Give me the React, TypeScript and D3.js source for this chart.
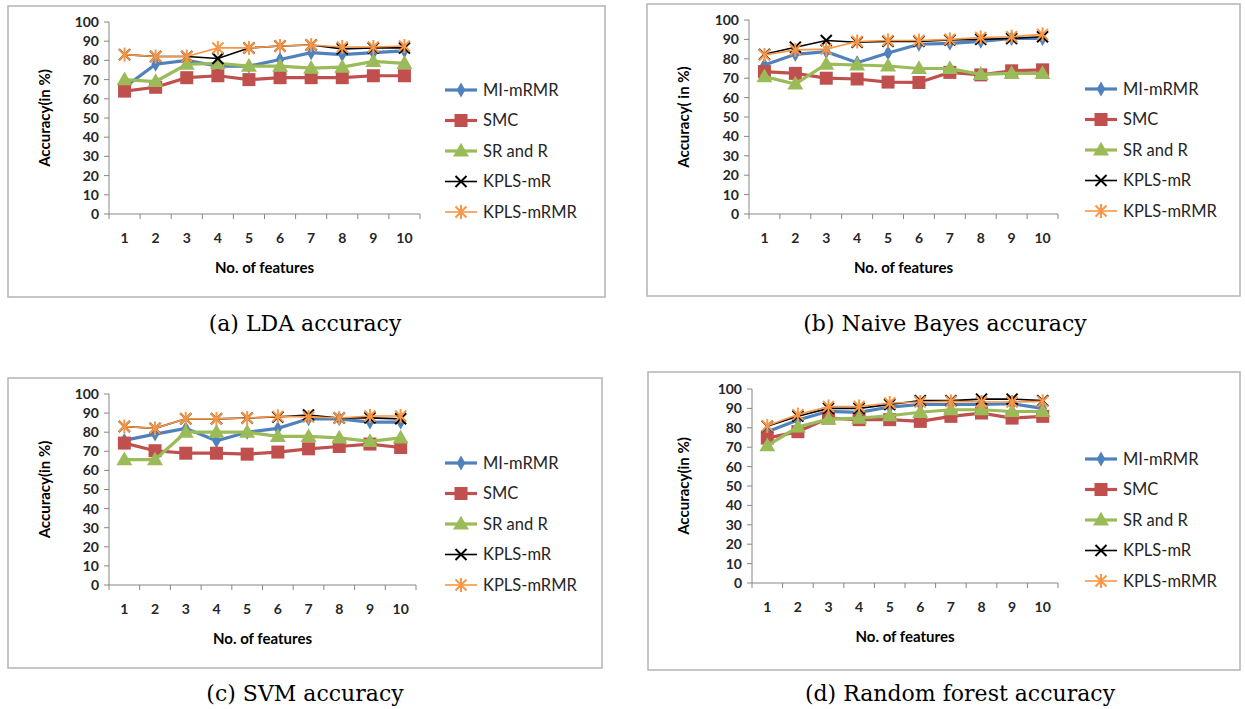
import * as d3 from "d3"

// x categories (number of features)
const featureLabels = ["1", "2", "3", "4", "5", "6", "7", "8", "9", "10"]
const yTicks = [0, 10, 20, 30, 40, 50, 60, 70, 80, 90, 100]
const seriesNames = ["MI-mRMR", "SMC", "SR and R", "KPLS-mR", "KPLS-mRMR"]

// (a) LDA
const ldaMiMrmr = [66, 78, 80, 77, 77, 80.5, 84, 83, 84, 85]
const ldaSmc = [64, 66, 71, 72, 70, 71, 71, 71, 72, 72]
const ldaSrR = [70, 69, 78, 78.5, 77, 77, 76, 76.5, 79.5, 78.5]
const ldaKplsMr = [83, 82, 82, 81, 86.5, 87.5, 88, 86, 86.5, 86.5]
const ldaKplsMrmr = [83, 82, 82, 86.5, 86.5, 87.5, 88, 87, 87, 87.5]

// (b) Naive Bayes
const nbMiMrmr = [76.8, 82.3, 83.7, 78, 83, 87.5, 88, 89, 90.5, 90.5]
const nbSmc = [73.4, 72.5, 70, 69.6, 68, 67.8, 73, 71.7, 73.8, 74.3]
const nbSrR = [70.8, 67, 77.2, 76.8, 76.3, 75, 75, 72, 72.5, 72.5]
const nbKplsMr = [82.3, 86, 89.4, 88.5, 89, 89, 89.7, 90, 90.5, 91.4]
const nbKplsMrmr = [82, 84.6, 85, 88.9, 89.4, 89.4, 90, 91, 91.4, 92.6]

// (c) SVM
const svmMiMrmr = [75.7, 79, 82, 75.5, 80, 82, 87, 87, 85.3, 85.3]
const svmSmc = [74.3, 70.3, 69, 69, 68.5, 69.6, 71.3, 72.5, 73.8, 72]
const svmSrR = [65.6, 65.6, 80, 80, 80, 77.8, 77.8, 77, 75.2, 77]
const svmKplsMr = [83, 82, 87, 87, 87.4, 88, 89, 87.4, 87.5, 87]
const svmKplsMrmr = [83, 82, 87, 87, 87.4, 88.3, 88, 87.4, 88.5, 88.5]

// (d) Random forest
const rfMiMrmr = [78, 84, 88.5, 88, 90.7, 92, 92, 92, 92.4, 90]
const rfSmc = [74.7, 78, 85, 84.2, 84.2, 83.3, 85.9, 87.6, 85, 85.9]
const rfSrR = [70.8, 80.4, 84.5, 85, 86.2, 88, 89.3, 89.3, 88.4, 88.4]
const rfKplsMr = [80.8, 86, 90, 90, 92, 94, 94, 94.8, 94.8, 94]
const rfKplsMrmr = [81, 86.8, 91, 91, 92.8, 93.3, 93.6, 93.3, 93.3, 93.6]

type Marker = "diamond" | "square" | "triangle" | "x" | "star"

const seriesStyles: { color: string; marker: Marker; width: number }[] = [
  { color: "#4f81bd", marker: "diamond", width: 3.2 },
  { color: "#c0504d", marker: "square", width: 3.2 },
  { color: "#9bbb59", marker: "triangle", width: 3.2 },
  { color: "#000000", marker: "x", width: 1.6 },
  { color: "#f79646", marker: "star", width: 1.6 },
]

const panels = [
  {
    caption: "(a) LDA accuracy",
    yTitle: "Accuracy(in %)",
    series: [ldaMiMrmr, ldaSmc, ldaSrR, ldaKplsMr, ldaKplsMrmr],
    box: { x: 8, y: 6, w: 597, h: 291 },
    plot: { left: 109, right: 420, top: 22, bottom: 214 },
    legend: { x: 445, y: 90 },
    yTitleX: 45,
    captionX: 305,
    captionY: 323,
  },
  {
    caption: "(b) Naive Bayes accuracy",
    yTitle: "Accuracy( in %)",
    series: [nbMiMrmr, nbSmc, nbSrR, nbKplsMr, nbKplsMrmr],
    box: { x: 647, y: 4, w: 593, h: 292 },
    plot: { left: 749, right: 1058, top: 20, bottom: 214 },
    legend: { x: 1085, y: 89 },
    yTitleX: 684,
    captionX: 945,
    captionY: 323,
  },
  {
    caption: "(c) SVM accuracy",
    yTitle: "Accuracy(in %)",
    series: [svmMiMrmr, svmSmc, svmSrR, svmKplsMr, svmKplsMrmr],
    box: { x: 8, y: 378, w: 594, h: 290 },
    plot: { left: 109, right: 416, top: 394, bottom: 585 },
    legend: { x: 445, y: 463 },
    yTitleX: 45,
    captionX: 305,
    captionY: 693,
  },
  {
    caption: "(d) Random forest accuracy",
    yTitle: "Accuracy(in %)",
    series: [rfMiMrmr, rfSmc, rfSrR, rfKplsMr, rfKplsMrmr],
    box: { x: 648, y: 372, w: 592, h: 298 },
    plot: { left: 752, right: 1058, top: 389, bottom: 583 },
    legend: { x: 1085, y: 459 },
    yTitleX: 684,
    captionX: 960,
    captionY: 693,
  },
]

const FONT = "Lato, 'Open Sans', sans-serif"

const MarkerShape = ({ kind, x, y, color }: { kind: Marker; x: number; y: number; color: string }) => {
  if (kind === "diamond") {
    return <path d={d3.symbol(d3.symbolDiamond, 64)()!} transform={`translate(${x},${y})`} fill={color} />
  }
  if (kind === "square") {
    return <rect x={x - 6.5} y={y - 6.5} width={13} height={13} fill={color} />
  }
  if (kind === "triangle") {
    return <path d={d3.symbol(d3.symbolTriangle, 110)()!} transform={`translate(${x},${y + 1})`} fill={color} />
  }
  const r = 5.5
  return (
    <g stroke={color} strokeWidth={2}>
      <line x1={x - r} y1={y - r} x2={x + r} y2={y + r} />
      <line x1={x - r} y1={y + r} x2={x + r} y2={y - r} />
      {kind === "star" && <line x1={x} y1={y - r - 1.5} x2={x} y2={y + r + 1.5} />}
    </g>
  )
}

const Panel = ({ p }: { p: (typeof panels)[number] }) => {
  const x = d3.scaleBand().domain(featureLabels).range([p.plot.left, p.plot.right]).padding(0)
  const y = d3.scaleLinear().domain([0, 100]).range([p.plot.bottom, p.plot.top])
  const cx = (i: number) => x(featureLabels[i])! + x.bandwidth() / 2
  const line = d3
    .line<number>()
    .x((_, i) => cx(i))
    .y((d) => y(d))
  const plotMidX = (p.plot.left + p.plot.right) / 2

  return (
    <g>
      <rect x={p.box.x} y={p.box.y} width={p.box.w} height={p.box.h} fill="white" stroke="#b8b8b8" strokeWidth={1.6} />

      {/* y axis */}
      <line x1={p.plot.left} x2={p.plot.left} y1={p.plot.top} y2={p.plot.bottom} stroke="#868686" />
      {yTicks.map((t) => (
        <g key={t}>
          <line x1={p.plot.left - 5} x2={p.plot.left} y1={y(t)} y2={y(t)} stroke="#868686" />
          <text
            x={p.plot.left - 10}
            y={y(t)}
            dy="0.35em"
            textAnchor="end"
            fontFamily={FONT}
            fontWeight="bold"
            fontSize={14}
            fill="#262626"
          >
            {t}
          </text>
        </g>
      ))}

      {/* x axis */}
      <line x1={p.plot.left} x2={p.plot.right} y1={p.plot.bottom} y2={p.plot.bottom} stroke="#868686" />
      {featureLabels.map((f) => (
        <line key={"t" + f} x1={x(f)! + x.bandwidth()} x2={x(f)! + x.bandwidth()} y1={p.plot.bottom} y2={p.plot.bottom + 5} stroke="#868686" />
      ))}
      <line x1={p.plot.left} x2={p.plot.left} y1={p.plot.bottom} y2={p.plot.bottom + 5} stroke="#868686" />
      {featureLabels.map((f) => (
        <text
          key={"l" + f}
          x={x(f)! + x.bandwidth() / 2}
          y={p.plot.bottom + 24}
          dy="0.35em"
          textAnchor="middle"
          fontFamily={FONT}
          fontWeight="bold"
          fontSize={14}
          fill="#262626"
        >
          {f}
        </text>
      ))}

      <text
        x={plotMidX}
        y={p.plot.bottom + 54}
        dy="0.35em"
        textAnchor="middle"
        fontFamily={FONT}
        fontWeight="bold"
        fontSize={15}
        fill="#000"
      >
        No. of features
      </text>
      <text
        transform={`translate(${p.yTitleX},${(p.plot.top + p.plot.bottom) / 2}) rotate(-90)`}
        dy="0.35em"
        textAnchor="middle"
        fontFamily={FONT}
        fontWeight="bold"
        fontSize={15}
        fill="#000"
      >
        {p.yTitle}
      </text>

      {/* series */}
      {p.series.map((vals, si) => (
        <g key={"s" + si}>
          <path d={line(vals)!} fill="none" stroke={seriesStyles[si].color} strokeWidth={seriesStyles[si].width} />
          {vals.map((v, i) => (
            <MarkerShape key={i} kind={seriesStyles[si].marker} x={cx(i)} y={y(v)} color={seriesStyles[si].color} />
          ))}
        </g>
      ))}

      {/* legend */}
      {seriesNames.map((name, si) => {
        const ly = p.legend.y + si * 30.5
        const st = seriesStyles[si]
        return (
          <g key={"lg" + si}>
            <line x1={p.legend.x} x2={p.legend.x + 32} y1={ly} y2={ly} stroke={st.color} strokeWidth={st.width} />
            <MarkerShape kind={st.marker} x={p.legend.x + 16} y={ly} color={st.color} />
            <text x={p.legend.x + 38} y={ly} dy="0.35em" fontFamily={FONT} fontSize={16.5} fill="#262626">
              {name}
            </text>
          </g>
        )
      })}

      <text
        x={p.captionX}
        y={p.captionY}
        dy="0.35em"
        textAnchor="middle"
        fontFamily="'DejaVu Serif', serif"
        fontSize={22}
        fill="#000"
      >
        {p.caption}
      </text>
    </g>
  )
}

export default function App() {
  return (
    <div style={{ position: "absolute", left: 0, top: 0 }}>
      <svg width={1245} height={709} style={{ display: "block", background: "white" }}>
        {panels.map((p, i) => (
          <Panel key={i} p={p} />
        ))}
      </svg>
    </div>
  )
}
